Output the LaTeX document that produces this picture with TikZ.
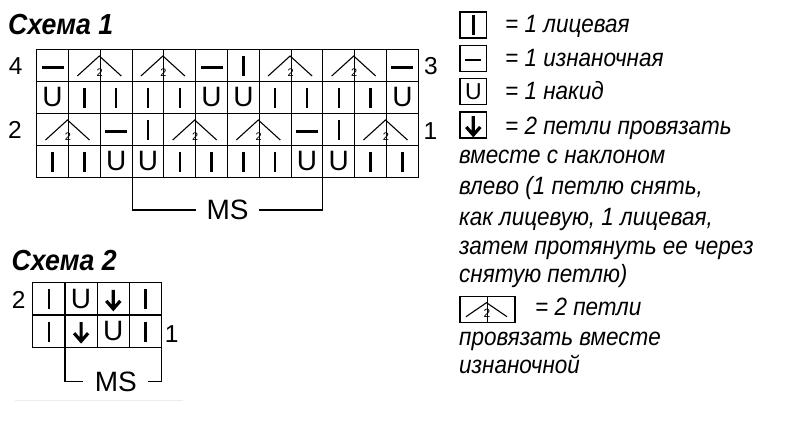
\documentclass[tikz,border=0pt]{standalone}
\usepackage{fontspec}
\setmainfont{Liberation Sans}
\begin{document}
\begin{tikzpicture}[x=1pt,y=-1pt,
  cell/.style={line width=1.1pt,line cap=rect},
  knit/.style={line width=2.5pt},
  caret/.style={line width=1.1pt},
  slip/.style={line width=3.2pt},
  yo/.style={font=\fontsize{28}{28}\selectfont},
  two/.style={font=\fontsize{11}{11}\selectfont},
  num/.style={font=\fontsize{24.5}{24.5}\selectfont},
  title/.style={font=\fontsize{29}{29}\selectfont\bfseries\itshape,anchor=base west,xscale=0.92},
  legend/.style={font=\fontsize{25}{25}\selectfont\itshape,anchor=base west,xscale=0.9}]
\tikzstyle{every node}+=[inner sep=0pt]
\useasboundingbox (0,0) rectangle (800,436);
\node[title] (s1) at (8,35) {Схема 1};
\foreach \i in {0,...,12} \draw[cell] (36.7+31.8*\i,49.3) -- (36.7+31.8*\i,177.3);
\foreach \j in {0,...,4} \draw[cell] (36.7,49.3+32*\j) -- (418.3,49.3+32*\j);
\draw[knit] (52.6,67.3) +(-11,0) -- +(11,0);
\draw[caret] (100.3,65.3) +(-23,10.7) -- +(-1,-9.3) -- +(21,10.7);
\node[two] (t1) at (99.8,72.5) {2};
\draw[caret] (163.9,65.3) +(-23,10.7) -- +(-1,-9.3) -- +(21,10.7);
\node[two] (t2) at (163.4,72.5) {2};
\draw[knit] (211.6,67.3) +(-11,0) -- +(11,0);
\draw[knit] (243.4,65.8) +(0,-10) -- +(0,10);
\draw[caret] (291.1,65.3) +(-23,10.7) -- +(-1,-9.3) -- +(21,10.7);
\node[two] (t3) at (290.6,72.5) {2};
\draw[caret] (354.7,65.3) +(-23,10.7) -- +(-1,-9.3) -- +(21,10.7);
\node[two] (t4) at (354.2,72.5) {2};
\draw[knit] (402.4,67.3) +(-11,0) -- +(11,0);
\node[yo] (y31) at (52.6,97.3) {U};
\draw[knit] (84.4,97.8) +(0,-10) -- +(0,10);
\draw[knit] (116.2,97.8) +(0,-10) -- +(0,10);
\draw[knit] (148.0,97.8) +(0,-10) -- +(0,10);
\draw[knit] (179.8,97.8) +(0,-10) -- +(0,10);
\node[yo] (y36) at (211.6,97.3) {U};
\node[yo] (y37) at (243.4,97.3) {U};
\draw[knit] (275.2,97.8) +(0,-10) -- +(0,10);
\draw[knit] (307.0,97.8) +(0,-10) -- +(0,10);
\draw[knit] (338.8,97.8) +(0,-10) -- +(0,10);
\draw[knit] (370.6,97.8) +(0,-10) -- +(0,10);
\node[yo] (y312) at (402.4,97.3) {U};
\draw[caret] (68.5,129.3) +(-23,10.7) -- +(-1,-9.3) -- +(21,10.7);
\node[two] (t5) at (68,136.5) {2};
\draw[knit] (116.2,131.3) +(-11,0) -- +(11,0);
\draw[knit] (148.0,129.8) +(0,-10) -- +(0,10);
\draw[caret] (195.7,129.3) +(-23,10.7) -- +(-1,-9.3) -- +(21,10.7);
\node[two] (t6) at (195.2,136.5) {2};
\draw[caret] (259.3,129.3) +(-23,10.7) -- +(-1,-9.3) -- +(21,10.7);
\node[two] (t7) at (258.8,136.5) {2};
\draw[knit] (307.0,131.3) +(-11,0) -- +(11,0);
\draw[knit] (338.8,129.8) +(0,-10) -- +(0,10);
\draw[caret] (386.5,129.3) +(-23,10.7) -- +(-1,-9.3) -- +(21,10.7);
\node[two] (t8) at (386,136.5) {2};
\draw[knit] (52.6,161.8) +(0,-10) -- +(0,10);
\draw[knit] (84.4,161.8) +(0,-10) -- +(0,10);
\node[yo] (y13) at (116.2,161.3) {U};
\node[yo] (y14) at (148.0,161.3) {U};
\draw[knit] (179.8,161.8) +(0,-10) -- +(0,10);
\draw[knit] (211.6,161.8) +(0,-10) -- +(0,10);
\draw[knit] (243.4,161.8) +(0,-10) -- +(0,10);
\draw[knit] (275.2,161.8) +(0,-10) -- +(0,10);
\node[yo] (y19) at (307.0,161.3) {U};
\node[yo] (y110) at (338.8,161.3) {U};
\draw[knit] (370.6,161.8) +(0,-10) -- +(0,10);
\draw[knit] (402.4,161.8) +(0,-10) -- +(0,10);
\node[num] (r4) at (15.8,66) {4};
\node[num] (r3) at (431,66) {3};
\node[num] (r2) at (15,130) {2};
\node[num] (r1) at (430.5,131) {1};
\node[yo,inner xsep=10.5pt] (ms1) at (227.5,210) {MS};
\draw[cell] (132.1,177.3) |- (ms1.west);
\draw[cell] (322.9,177.3) |- (ms1.east);
\node[title] (s2) at (11.5,270) {Схема 2};
\foreach \i in {0,...,4} \draw[cell] (32.7+32.25*\i,282.7) -- (32.7+32.25*\i,347.3);
\foreach \j in {0,1,2} \draw[cell] (32.7,282.7+32.3*\j) -- (161.7,282.7+32.3*\j);
\draw[knit] (48.8,299.4) +(0,-10) -- +(0,10);
\node[yo] (y22) at (81.1,298.9) {U};
\draw[slip] (113.3,298.9) +(0,-9) -- +(0,10) +(-7,2) -- +(0,10) -- +(7,2);
\draw[knit] (145.6,299.4) +(0,-10) -- +(0,10);
\draw[knit] (48.8,331.7) +(0,-10) -- +(0,10);
\draw[slip] (81.1,331.2) +(0,-9) -- +(0,10) +(-7,2) -- +(0,10) -- +(7,2);
\node[yo] (y23) at (113.3,331.2) {U};
\draw[knit] (145.6,331.7) +(0,-10) -- +(0,10);
\node[num] (q2) at (18.8,300) {2};
\node[num] (q1) at (171.7,334) {1};
\node[yo,inner xsep=12pt] (ms2) at (115.8,381.7) {MS};
\draw[cell] (64.95,347.3) |- (ms2.west);
\draw[cell] (161.7,347.3) |- (ms2.east);
\draw[gray!15,line width=0.8pt] (15,400) -- (183,400);
\draw[cell] (460,12) rectangle (486.7,38);
\draw[knit] (473.3,25) +(0,-10) -- +(0,10);
\draw[cell] (460,45.5) rectangle (486.7,71.5);
\draw[knit] (473.3,60) +(-8,0) -- +(8,0);
\draw[cell] (460,78.5) rectangle (486.7,104.5);
\node[yo,font=\fontsize{23}{23}\selectfont] (yl) at (473.3,91.5) {U};
\draw[cell] (460,112) rectangle (486.7,138);
\draw[slip] (473.3,125) +(0,-9) -- +(0,10) +(-7,2) -- +(0,10) -- +(7,2);
\draw[cell] (460,296.7) rectangle (515,322.7);
\draw[cell] (487.3,296.7) -- (487.3,322.7);
\draw[caret] (466,316.7) -- (486.5,302.7) -- (507,316.7);
\node[two,font=\fontsize{12}{12}\selectfont] (tl) at (487,313.5) {2};
\node[legend] (l1) at (505,32.5) {= 1 лицевая};
\node[legend] (l2) at (505,66.5) {= 1 изнаночная};
\node[legend] (l3) at (505,99.5) {= 1 накид};
\node[legend] (l4) at (505,134) {= 2 петли провязать};
\node[legend] (l5) at (459,163) {вместе с наклоном};
\node[legend] (l6) at (459,194) {влево (1 петлю снять,};
\node[legend] (l7) at (459,225.5) {как лицевую, 1 лицевая,};
\node[legend] (l8) at (459,254.5) {затем протянуть ее через};
\node[legend] (l9) at (459,282) {снятую петлю)};
\node[legend] (l10) at (535,315) {= 2 петли};
\node[legend] (l11) at (459,345) {провязать вместе};
\node[legend] (l12) at (459,373.5) {изнаночной};
\end{tikzpicture}
\end{document}
